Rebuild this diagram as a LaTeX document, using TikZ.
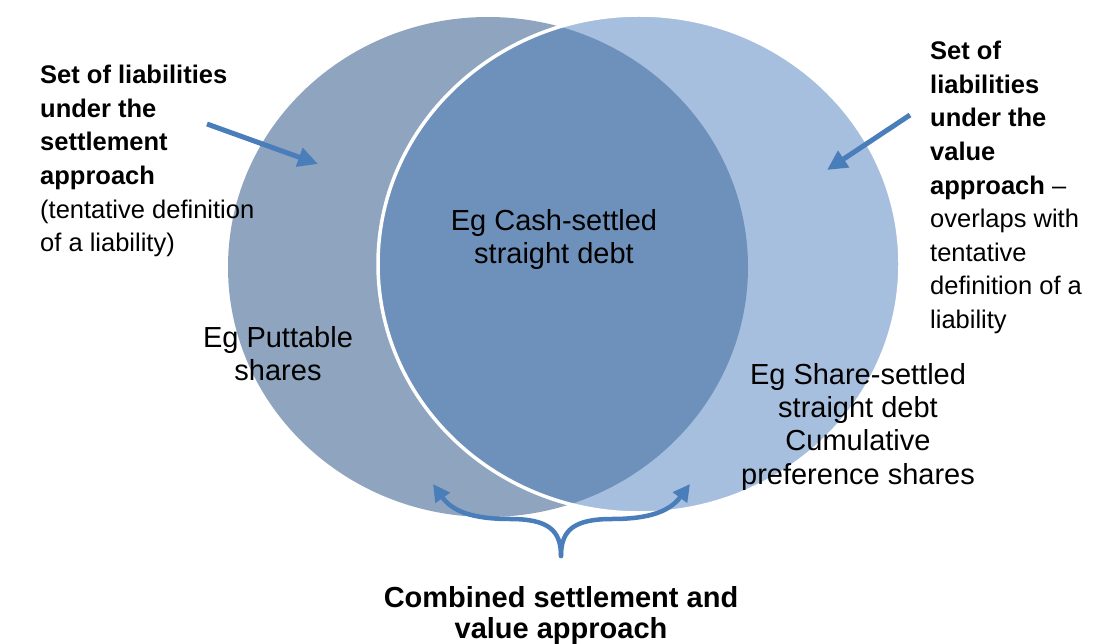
\documentclass[tikz,border=0pt]{standalone}
\usepackage{fontspec}
\setmainfont{Liberation Sans}
\usetikzlibrary{arrows.meta}

\definecolor{settlefill}{HTML}{8FA4BE}
\definecolor{valuefill}{HTML}{A7BFDE}
\definecolor{bothfill}{HTML}{6E91BC}
\definecolor{arrowblue}{HTML}{4A7EBB}

\begin{document}
\begin{tikzpicture}[x=1pt, y=-1pt,
  txt/.style={font=\fontsize{25.5}{33.6}\selectfont, inner sep=0pt, text=black},
  inner txt/.style={txt, align=center, anchor=north, font=\fontsize{29}{33.3}\selectfont},
  pointer/.style={draw=arrowblue, line width=5pt, -{Triangle[length=20pt, width=19pt]}},
  bracearrow/.style={draw=arrowblue, line width=4.5pt, line cap=round, -{Triangle[length=17pt, width=17pt]}}]
  \useasboundingbox (0,0) rectangle (1106,644);

  % Centres of the two sets
  \coordinate (settlec) at (488,267);
  \coordinate (valuec) at (639,264);

  % Set under the settlement approach
  \fill [settlefill] (settlec) ellipse [x radius=260pt, y radius=250pt];
  % Set under the value approach
  \fill [valuefill] (valuec) ellipse [x radius=261pt, y radius=249pt];
  % Overlap of both sets
  \begin{scope}
    \clip (settlec) ellipse [x radius=260pt, y radius=250pt];
    \fill [bothfill] (valuec) ellipse [x radius=261pt, y radius=249pt];
  \end{scope}
  \draw [white, line width=3.5pt] (valuec) ellipse [x radius=261pt, y radius=249pt];

  % Side labels
  \node (settlelbl) [txt, align=left, anchor=north west] at (40,65) {\textbf{Set of liabilities}\\\textbf{under the}\\\textbf{settlement}\\\textbf{approach}\\(tentative definition\\of a liability)};
  \node (valuelbl) [txt, align=left, anchor=north west] at (930,41) {\textbf{Set of}\\\textbf{liabilities}\\\textbf{under the}\\\textbf{value}\\\textbf{approach} --\\overlaps with\\tentative\\definition of a\\liability};

  % Examples inside the sets
  \node (cashdebt) [inner txt] at (554,209) {Eg Cash-settled\\straight debt};
  \node (puttable) [inner txt] at (278,326) {Eg Puttable\\shares};
  \node (sharedebt) [inner txt] at (858,363) {Eg Share-settled\\straight debt\\Cumulative\\preference shares};

  % Bottom label
  \node (combined) [inner txt, font=\fontsize{29}{31}\selectfont\bfseries] at (561,586) {Combined settlement and\\value approach};

  % Pointers to the sets
  \coordinate (settletail) at (207,124);
  \coordinate (settletip) at (318,164);
  \coordinate (valuetail) at (910,115);
  \coordinate (valuetip) at (827,170);
  \draw [pointer] (settletail) -- (settletip);
  \draw [pointer] (valuetail) -- (valuetip);

  % Brace to the overlap
  \coordinate (bracefoot) at (561,556);
  \coordinate (lefttip) at (433,484);
  \coordinate (righttip) at (690,484);
  \draw [bracearrow] (bracefoot) .. controls (561,530) and (548,519) .. (510,519) .. controls (472,519) and (452,511) .. (lefttip);
  \draw [bracearrow] (bracefoot) .. controls (561,530) and (574,519) .. (612,519) .. controls (650,519) and (670,511) .. (righttip);
\end{tikzpicture}
\end{document}
